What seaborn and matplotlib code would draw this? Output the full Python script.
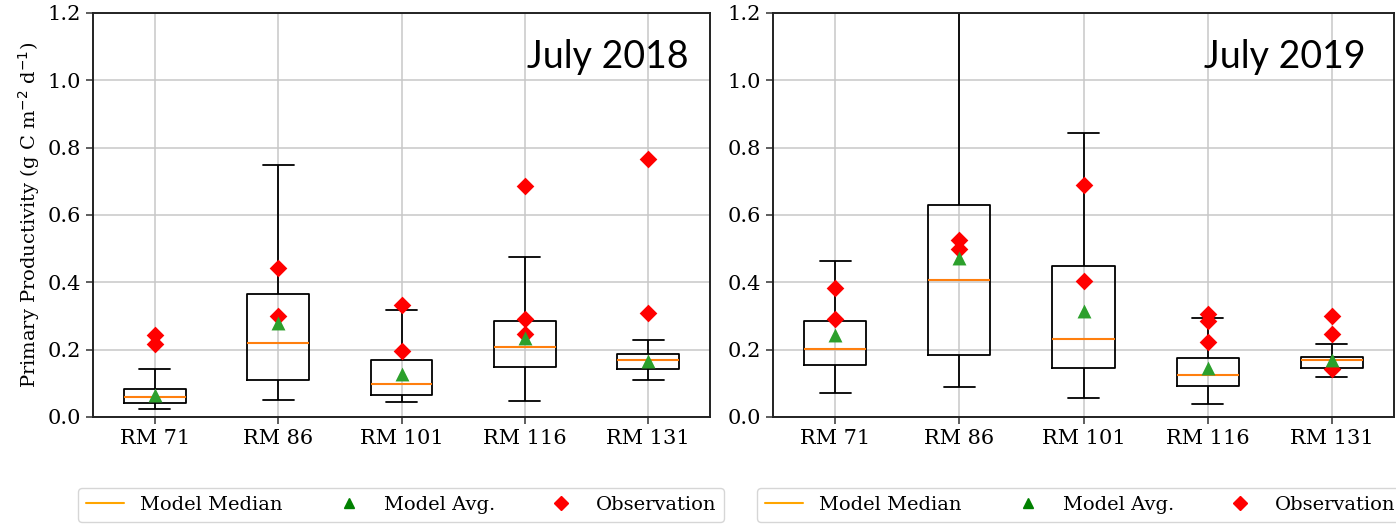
import numpy as np
import pandas as pd
import matplotlib
matplotlib.use("Agg")
import matplotlib.pyplot as plt
import seaborn as sns
from matplotlib.lines import Line2D

sites = ["RM 71", "RM 86", "RM 101", "RM 116", "RM 131"]

# ---- July 2018: model five-number summaries, model mean, observations
lo_2018 = [0.023, 0.051, 0.046, 0.047, 0.109]
q1_2018 = [0.043, 0.111, 0.066, 0.150, 0.142]
med_2018 = [0.058, 0.220, 0.099, 0.207, 0.169]
q3_2018 = [0.084, 0.366, 0.170, 0.284, 0.187]
hi_2018 = [0.142, 0.750, 0.319, 0.476, 0.230]
avg_2018 = [0.066, 0.279, 0.127, 0.236, 0.165]
obs_site_2018 = ["RM 71", "RM 71", "RM 86", "RM 86", "RM 101", "RM 101",
                 "RM 116", "RM 116", "RM 116", "RM 131", "RM 131"]
obs_2018 = [0.243, 0.218, 0.444, 0.299, 0.332, 0.195,
            0.687, 0.292, 0.248, 0.766, 0.310]

# ---- July 2019
lo_2019 = [0.072, 0.088, 0.057, 0.040, 0.119]
q1_2019 = [0.153, 0.185, 0.145, 0.093, 0.146]
med_2019 = [0.202, 0.406, 0.233, 0.124, 0.169]
q3_2019 = [0.285, 0.630, 0.448, 0.175, 0.177]
hi_2019 = [0.462, 1.320, 0.844, 0.294, 0.216]
avg_2019 = [0.243, 0.472, 0.315, 0.146, 0.168]
obs_site_2019 = ["RM 71", "RM 71", "RM 86", "RM 86", "RM 101", "RM 101",
                 "RM 116", "RM 116", "RM 116", "RM 131", "RM 131", "RM 131"]
obs_2019 = [0.383, 0.290, 0.525, 0.500, 0.688, 0.403,
            0.307, 0.284, 0.224, 0.301, 0.248, 0.144]

titles = ["July 2018", "July 2019"]

sns.set_theme(style="ticks")
plt.rcParams["font.family"] = ["DejaVu Serif"]
plt.rcParams["text.color"] = "black"
plt.rcParams["axes.labelcolor"] = "black"
plt.rcParams["xtick.color"] = "black"
plt.rcParams["ytick.color"] = "black"

W, H = 1396, 525
fig = plt.figure(figsize=(W / 100, H / 100), dpi=100)
ax_pos = [(93, 710), (773, 1394)]
top_px, bot_px = 13, 417

panels = [
    (lo_2018, q1_2018, med_2018, q3_2018, hi_2018, avg_2018, obs_site_2018, obs_2018),
    (lo_2019, q1_2019, med_2019, q3_2019, hi_2019, avg_2019, obs_site_2019, obs_2019),
]

MED_C = "#ff7f0e"
AVG_C = "#2ca02c"

for i, (lo, q1, med, q3, hi, avg, osite, obs) in enumerate(panels):
    x0, x1 = ax_pos[i]
    ax = fig.add_axes([x0 / W, 1 - bot_px / H, (x1 - x0) / W, (bot_px - top_px) / H])
    rows = []
    for s, a, b, c, d, e in zip(sites, lo, q1, med, q3, hi):
        for v in (a, b, c, d, e):
            rows.append((s, v))
    df = pd.DataFrame(rows, columns=["site", "val"])
    sns.boxplot(data=df, x="site", y="val", order=sites, whis=(0, 100),
                width=0.5, fill=False, color="black", linewidth=1.3,
                medianprops={"color": MED_C, "linewidth": 1.5}, ax=ax)
    dobs = pd.DataFrame({"site": osite, "val": obs})
    sns.stripplot(data=dobs, x="site", y="val", order=sites, jitter=False,
                  marker="D", color="red", size=9, linewidth=0, zorder=5, ax=ax)
    davg = pd.DataFrame({"site": sites, "val": avg})
    sns.stripplot(data=davg, x="site", y="val", order=sites, jitter=False,
                  marker="^", color=AVG_C, size=10, linewidth=0, zorder=6, ax=ax)
    ax.set_ylim(0, 1.2)
    ax.set_xlim(-0.5, 4.5)
    ax.set_yticks([0, 0.2, 0.4, 0.6, 0.8, 1.0, 1.2])
    ax.set_yticklabels(["0.0", "0.2", "0.4", "0.6", "0.8", "1.0", "1.2"])
    ax.grid(True, color="#c8c8c8", linewidth=1.1)
    ax.set_axisbelow(True)
    ax.tick_params(labelsize=15, length=5, width=1.1, color="#333333")
    for sp in ax.spines.values():
        sp.set_visible(True)
        sp.set_color("#222222")
        sp.set_linewidth(1.4)
    ax.set_xlabel("")
    if i == 0:
        ax.set_ylabel(r"Primary Productivity (g C m$^{-2}$ d$^{-1}$)", fontsize=14)
    else:
        ax.set_ylabel("")
    ax.text(0.965 if i == 0 else 0.955, 0.89, titles[i], transform=ax.transAxes,
            ha="right", va="center", fontsize=27, color="black",
            family=["Lato", "DejaVu Sans"])

    handles = [Line2D([], [], color="orange", lw=1.5),
               Line2D([], [], color="green", marker="^", ls="none", markersize=7),
               Line2D([], [], color="red", marker="D", ls="none", markersize=7)]
    cx = (401 if i == 0 else 1080) / W
    fig.legend(handles, ["Model Median", "Model Avg.", "Observation"],
               loc="center", bbox_to_anchor=(cx, 1 - 505 / H), ncol=3,
               fontsize=14, handlelength=2.0, handletextpad=0.8,
               columnspacing=2.4, frameon=True)

fig.savefig("out.png", dpi=100)
